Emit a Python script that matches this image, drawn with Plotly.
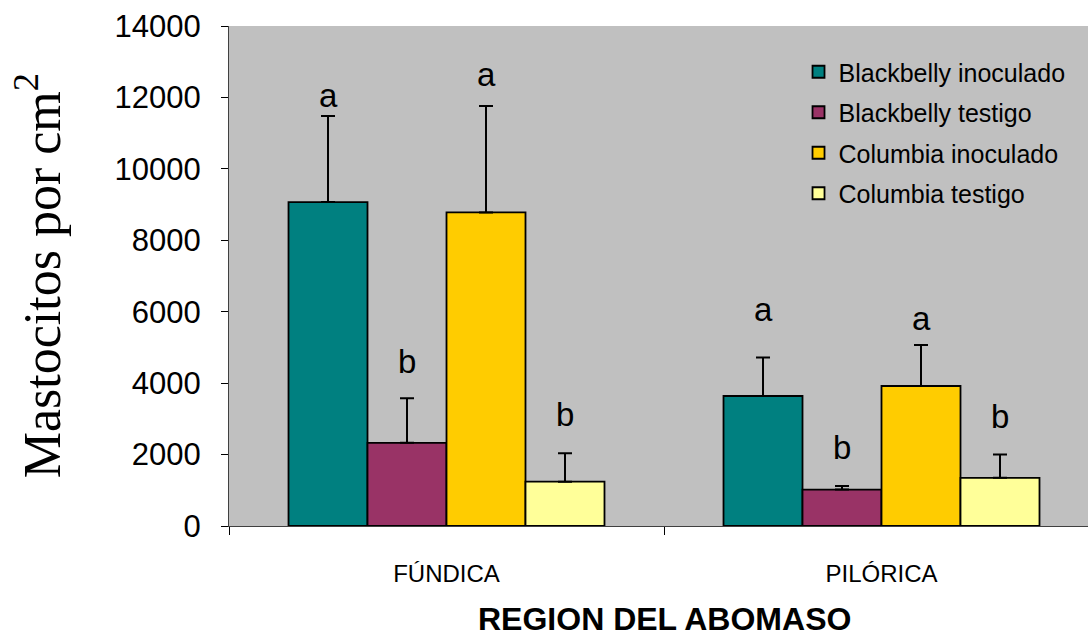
import plotly.graph_objects as go

# Abomasal regions and mast cell counts (cells per cm2)
regions = ["FÚNDICA", "PILÓRICA"]
series_names = ["Blackbelly inoculado", "Blackbelly testigo",
                "Columbia inoculado", "Columbia testigo"]
means = [
    [9070, 3640],   # Blackbelly inoculado
    [2330, 1020],   # Blackbelly testigo
    [8780, 3920],   # Columbia inoculado
    [1240, 1350],   # Columbia testigo
]
errors = [
    [2410, 1080],
    [1250, 100],
    [2980, 1150],
    [800, 650],
]
colors = ["#008080", "#993366", "#FFCC00", "#FFFF99"]

# Significance letters and the height at which each is written
letters = [["a", "a"], ["b", "b"], ["a", "a"], ["b", "b"]]
letter_heights = [[12050, 6070], [4620, 2190], [12650, 5820], [3120, 3080]]

y_ticks = [0, 2000, 4000, 6000, 8000, 10000, 12000, 14000]

fig = go.Figure()
for name, vals, errs, col in zip(series_names, means, errors, colors):
    fig.add_trace(go.Bar(
        name=name,
        x=regions,
        y=vals,
        marker=dict(color=col, line=dict(color="black", width=1.8)),
        error_y=dict(type="data", array=errs, arrayminus=[0] * len(errs),
                     symmetric=False, color="black", thickness=2, width=7),
        legendgroup=name,
    ))

# letters above each bar: bars sit at fixed offsets inside each group
n = len(series_names)
gap = 0.2736
bar_w = (1 - gap) / n
for i in range(n):
    offset = (i - (n - 1) / 2) * bar_w
    for j, reg in enumerate(regions):
        fig.add_annotation(
            x=j + offset, y=letter_heights[i][j], xref="x", yref="y",
            text=letters[i][j], showarrow=False,
            font=dict(family="Liberation Sans, Arial", size=33, color="black"),
            xanchor="center", yanchor="middle",
        )

# axis titles
fig.add_annotation(
    x=0.5, xref="x", y=-0.186, yref="paper",
    text="<b>REGION DEL ABOMASO</b>", showarrow=False,
    font=dict(family="Liberation Sans, Arial", size=32, color="black"),
    xanchor="center", yanchor="middle",
)
fig.add_annotation(
    x=-0.222, xref="paper", y=0.5, yref="paper",
    text="Mastocitos por cm<sup>2</sup>", showarrow=False, textangle=-90,
    font=dict(family="Liberation Serif, Times New Roman, serif", size=52,
              color="black"),
    xanchor="center", yanchor="middle",
)

fig.update_layout(
    width=1088, height=640,
    margin=dict(l=229, r=0, t=26, b=114),
    paper_bgcolor="white",
    plot_bgcolor="#C0C0C0",
    barmode="group",
    bargap=gap,
    bargroupgap=0,
    showlegend=True,
    legend=dict(
        x=0.663, y=0.954, xanchor="left", yanchor="top",
        bgcolor="rgba(0,0,0,0)",
        font=dict(family="Liberation Sans, Arial", size=25, color="black"),
        tracegroupgap=5,
    ),
    xaxis=dict(
        type="category",
        range=[-0.5, 1.4747],
        tickson="boundaries",
        ticks="outside", ticklen=8, tickcolor="black", tickwidth=1,
        showline=True, linecolor="#404040", linewidth=1,
        showgrid=False, zeroline=False,
        tickfont=dict(family="Liberation Sans, Arial", size=24, color="black"),
        ticklabelstandoff=26,
        automargin=False,
    ),
    yaxis=dict(
        range=[0, 14000],
        tickvals=y_ticks,
        ticktext=[str(v) for v in y_ticks],
        ticks="outside", ticklen=7, tickcolor="black", tickwidth=1,
        showline=True, linecolor="#404040", linewidth=1,
        showgrid=False, zeroline=False,
        tickfont=dict(family="Liberation Sans, Arial", size=31, color="black"),
        ticklabelstandoff=14,
        automargin=False,
    ),
)

fig.write_html("out.html")
